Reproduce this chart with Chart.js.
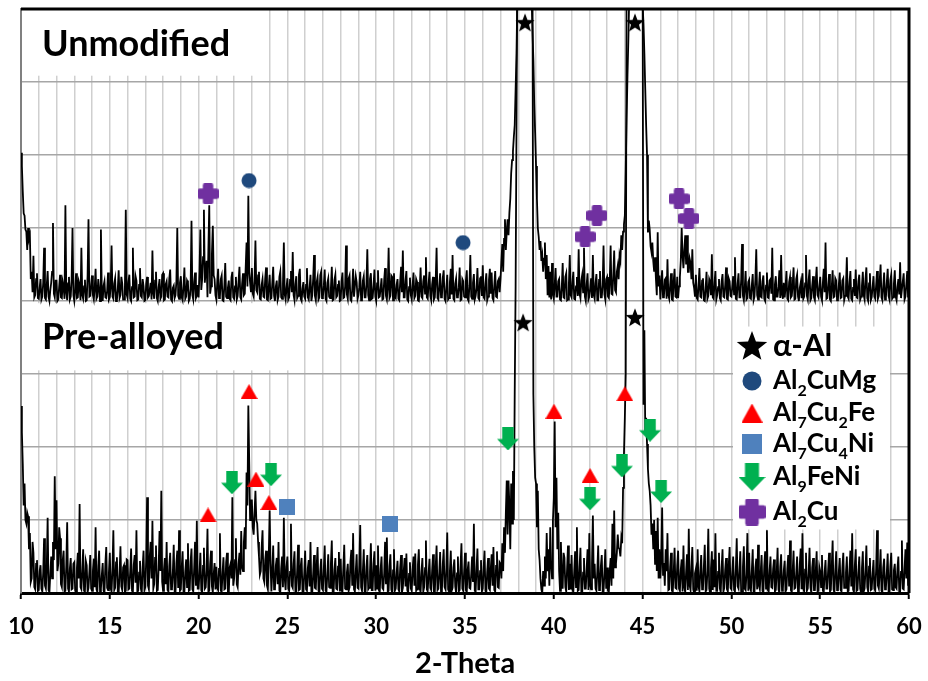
<!DOCTYPE html>
<html>
<head>
<meta charset="utf-8">
<script src="https://cdn.jsdelivr.net/npm/chart.js@4.4.1/dist/chart.umd.min.js"></script>
<style>
  html, body { margin: 0; padding: 0; background: #fff; }
  #wrap { width: 928px; height: 681px; }
</style>
</head>
<body>
<div id="wrap"><canvas id="xrd" width="928" height="681"></canvas></div>
<script>
// scan: 10-60 deg 2-theta, 0.05 deg step; intensity in grid units (100 = one gridline)
const scanStart = 10;
const scanStep = 0.05;
const stackOffset = 400; // the unmodified pattern sits four gridlines up

const unmodified = [
  203,185,150,120,117,98,95,70,100,85,90,30,40,12,62,5,8,30,38,4,
  3,18,30,2,6,25,73,4,2,22,41,6,0,15,25,40,107,10,5,28,
  28,0,2,20,36,5,4,26,19,3,131,12,1,24,33,2,6,30,100,8,
  0,15,38,4,5,27,22,1,73,8,3,20,29,0,1,35,112,6,7,22,
  35,8,2,18,44,3,6,30,18,0,98,10,0,21,27,5,4,14,39,2,
  5,20,76,6,3,24,31,0,1,17,42,4,8,33,24,2,2,16,125,9,
  4,26,36,3,0,19,73,5,6,34,28,1,2,22,45,7,5,30,20,0,
  1,24,33,5,7,16,25,2,69,11,3,28,40,4,0,19,30,3,6,36,
  38,1,2,23,27,6,5,31,43,2,0,18,21,4,8,27,100,7,3,25,
  34,5,1,20,46,3,6,28,25,0,3,17,110,8,2,26,39,4,7,22,
  5,40,98,15,30,60,125,25,40,55,5,70,131,10,20,65,103,35,30,8,
  2,25,44,4,6,30,35,1,0,21,52,6,4,18,28,3,1,32,40,5,
  3,20,33,2,7,27,47,5,2,24,38,8,10,45,80,20,144,40,25,12,
  45,10,6,28,83,15,12,35,40,3,2,22,30,6,5,31,46,2,1,19,
  36,3,4,25,47,7,0,20,28,1,6,33,40,5,3,24,80,9,2,18,
  31,2,5,29,41,12,67,8,1,23,34,4,7,36,44,3,0,17,26,6,
  3,22,45,5,2,19,36,0,8,30,63,7,1,26,33,2,5,35,40,4,
  6,21,43,3,0,25,31,6,4,18,47,1,2,29,36,5,7,22,28,0,
  1,27,39,4,5,20,76,9,3,31,35,2,0,16,44,6,6,34,26,3,
  8,19,40,1,2,28,34,5,5,23,71,8,1,30,38,3,4,21,43,6,
  0,24,42,5,6,18,31,2,3,29,45,7,2,20,73,4,7,35,33,1,
  38,6,4,22,30,3,1,26,47,12,69,5,5,28,41,2,0,19,32,8,
  2,21,39,4,7,30,26,1,0,17,46,6,4,27,35,10,60,5,3,24,
  40,7,1,23,33,2,5,29,73,4,2,20,38,5,6,32,42,3,0,18,
  36,2,4,26,44,9,63,3,1,24,31,5,6,19,46,1,2,30,27,6,
  5,28,42,3,0,21,63,6,3,25,37,2,7,18,45,4,2,31,34,7,
  49,5,3,24,38,1,6,29,44,10,39,4,1,22,41,6,5,27,30,12,
  30,55,78,40,85,112,70,95,112,90,121,140,175,193,205,225,241,290,339,420,
  440,560,720,900,1100,1250,1300,1250,1100,950,820,700,610,540,470,415,370,330,270,230,
  185,140,100,88,70,82,55,63,40,58,80,30,63,8,48,5,40,2,52,9,
  3,22,45,6,6,27,30,2,1,19,52,5,4,33,38,1,2,24,63,8,
  5,26,40,3,2,20,33,7,71,10,4,28,36,12,73,6,0,23,38,2,
  6,18,31,4,63,8,3,25,37,1,1,29,41,5,5,22,76,9,2,30,
  33,6,4,27,76,10,9,35,69,15,12,40,48,30,62,55,90,70,95,105,
  117,180,250,310,360,420,520,700,900,1100,1250,1300,1250,1100,900,750,620,540,470,430,
  405,380,339,290,240,200,94,110,98,75,67,80,55,40,60,30,8,94,20,35,
  2,24,42,5,6,29,31,3,57,8,3,21,38,2,1,27,44,6,5,33,
  4,20,33,55,100,62,45,70,90,50,90,40,40,58,52,30,71,25,18,6,
  36,4,2,21,45,6,5,28,31,1,0,18,40,3,7,30,26,8,64,5,
  3,25,41,2,8,19,30,4,1,27,37,6,5,22,46,3,2,31,27,7,
  6,20,34,9,60,3,2,24,38,5,5,29,78,7,1,18,41,2,4,26,
  29,4,3,22,37,1,6,30,71,8,2,19,40,6,5,27,35,3,0,21,
  39,5,4,28,30,10,73,2,1,23,34,6,6,20,42,4,63,9,3,25,
  5,19,41,3,1,26,33,5,7,22,46,2,3,30,36,6,0,18,25,4,
  38,3,6,24,63,7,2,29,43,1,4,21,34,5,1,27,47,8,5,20,
  33,6,1,25,44,12,80,3,4,22,37,2,0,19,42,5,6,31,28,1,
  2,23,39,4,5,28,31,1,7,20,60,6,3,26,41,3,1,18,30,7,
  43,5,4,27,36,2,6,21,40,8,2,30,46,4,0,24,38,1,5,19,
  34,6,3,22,41,3,7,28,50,5,1,20,39,2,5,26,44,7,2,29,
  36,3,5,24,42,6,1,19,30,9,53,4,4,27,38,2,6,23,41,5,
  24
];

const preAlloyed = [
  256,220,177,120,150,100,95,110,105,60,82,15,20,70,55,8,5,40,45,3,
  4,30,38,6,2,28,75,10,6,35,103,4,1,26,50,20,70,45,160,60,
  127,30,40,90,75,12,8,45,58,2,3,38,97,6,2,33,48,5,6,40,
  42,4,0,35,55,20,122,8,5,30,60,3,2,44,38,1,7,29,52,6,
  3,31,47,8,90,5,1,37,58,2,6,25,41,3,0,40,63,7,4,28,
  55,6,2,33,86,4,7,42,49,1,0,27,64,9,4,35,38,2,3,46,
  45,5,6,30,61,3,1,39,52,14,86,2,3,28,44,6,0,36,58,4,
  8,45,131,10,5,50,70,20,99,6,12,48,65,3,4,35,85,30,140,15,
  3,32,48,12,70,4,2,38,55,5,6,29,66,2,0,41,58,7,86,3,
  5,36,57,2,1,30,46,8,68,3,4,43,61,5,2,34,70,10,99,6,
  6,28,55,4,0,37,62,6,8,31,88,2,3,40,58,9,1,26,41,5,
  36,7,4,33,82,3,2,29,49,5,6,42,55,1,0,35,40,20,131,10,
  20,45,75,12,8,40,55,25,85,35,30,70,90,60,165,120,257,180,100,127,
  127,90,80,110,140,100,95,70,50,25,30,62,86,20,15,45,58,10,5,50,
  113,40,2,30,65,5,6,38,48,12,70,3,1,34,50,8,103,20,4,36,
  50,6,3,29,95,10,7,40,57,2,0,31,66,4,5,37,48,1,2,28,
  58,5,3,34,45,9,70,2,1,26,52,7,6,39,63,3,0,30,47,6,
  4,33,65,3,2,27,53,8,7,41,72,1,0,32,48,6,5,36,56,2,
  47,4,1,35,66,6,5,28,40,3,8,43,59,10,82,5,2,30,53,7,
  6,38,93,8,3,31,60,2,0,36,52,5,7,29,68,4,4,40,57,3,
  38,6,65,4,1,33,50,7,5,27,70,12,76,2,3,37,53,5,0,31,
  60,3,6,28,44,5,2,35,52,1,7,30,48,9,54,4,0,26,42,6,
  3,32,50,10,54,3,5,39,60,6,1,29,48,2,8,34,72,5,2,27,
  47,7,4,31,53,2,0,36,65,4,6,28,56,1,3,40,60,8,5,33,
  83,5,2,30,58,3,7,35,46,9,0,27,50,2,4,38,68,6,3,29,
  55,4,1,32,43,7,6,26,50,15,95,3,2,34,61,5,5,30,45,2,
  6,35,58,3,0,29,48,6,4,33,53,10,63,4,2,37,57,8,7,42,
  40,20,68,30,90,55,110,154,80,154,120,60,150,95,167,100,276,420,640,880,
  1100,1400,1700,1900,2000,2000,1900,1700,1500,1300,1150,1050,980,930,900,880,850,272,200,158,
  150,90,140,60,45,20,5,0,30,10,50,20,82,30,60,10,90,40,20,99,
  130,235,90,158,60,110,30,3,70,20,6,55,48,8,2,35,65,4,40,5,
  52,5,1,30,57,8,90,3,4,36,62,2,0,28,48,6,6,33,60,4,
  82,10,5,40,106,20,40,6,3,30,65,4,7,37,52,2,1,28,60,6,
  35,3,2,30,48,10,95,20,113,35,40,55,80,62,60,50,75,68,144,190,
  240,300,850,1200,1600,1900,2000,2000,1900,1700,1500,1300,1150,1050,980,930,900,880,860,850,
  850,258,360,220,240,204,170,150,140,120,80,95,60,100,40,85,30,103,20,60,
  20,45,117,25,41,10,60,30,82,4,5,36,55,3,2,28,62,7,6,38,
  58,6,3,32,46,2,65,8,1,29,53,4,88,10,4,35,63,5,0,27,
  33,3,60,9,2,31,52,5,6,37,66,2,4,30,88,6,0,34,57,4,
  46,8,82,3,3,29,55,6,1,35,60,2,7,32,48,5,2,38,63,7,
  5,28,50,4,2,33,75,9,6,30,57,1,0,36,64,6,4,27,82,3,
  55,7,3,31,60,2,1,34,47,5,66,10,5,29,52,3,0,37,57,6,
  86,4,2,30,50,8,7,33,46,2,4,28,62,5,0,36,53,3,6,31,
  44,2,5,34,52,9,72,4,1,30,58,6,7,27,50,2,3,39,61,5,
  82,6,2,32,55,3,6,28,62,8,0,35,48,4,4,30,57,2,3,36,
  30,8,52,3,1,29,45,6,6,33,55,2,4,37,72,5,0,31,57,4,
  5,30,48,4,2,35,55,7,7,28,50,2,3,33,58,9,82,5,1,38,
  60,3,4,29,50,6,0,34,57,2,6,31,65,8,2,36,48,4,5,27,
  45,6,3,33,86,10,6,30,60,3,1,35,47,5,7,28,54,2,2,37,
  55,5,4,31,40,8,6,34,50,2,2,29,72,6,5,33,60,20,69,10,
  40
];

// phase markers: [2-theta, height] on the stacked scale
const alphaAl  = [[38.38, 782], [44.57, 782], [38.27, 371], [44.57, 378]];
const al2CuMg  = [[22.84, 565], [34.89, 480]];
const al7Cu2Fe = [[22.84, 276], [20.53, 107], [23.23, 156], [23.96, 124], [40.01, 249], [42.04, 161], [44.0, 273]];
const al7Cu4Ni = [[24.98, 118], [30.78, 95]];
const al9FeNi  = [[21.88, 151], [24.08, 162], [37.42, 211], [42.04, 129], [43.84, 174], [45.42, 223], [46.04, 139]];
const al2Cu    = [[20.53, 547], [41.76, 488], [42.43, 517], [47.05, 540], [47.61, 513]];

const phaseNames = ['α-Al', 'Al2CuMg', 'Al7Cu2Fe', 'Al7Cu4Ni', 'Al9FeNi', 'Al2Cu'];
const panelNames = ['Unmodified', 'Pre-alloyed'];
const axisTitle = '2-Theta';

const FONT = 'Lato';

// --- marker sprites -------------------------------------------------------
function sprite(w, h, draw) {
  const c = document.createElement('canvas');
  c.width = w; c.height = h;
  const g = c.getContext('2d');
  draw(g, w, h);
  return c;
}
function starIcon(size, color) {
  return sprite(size, size, (g, w, h) => {
    const R = size / 2, r = R * 0.42, cx = w / 2, cy = h / 2 + size * 0.06;
    g.beginPath();
    for (let k = 0; k < 10; k++) {
      const rad = k % 2 ? r : R;
      const a = -Math.PI / 2 + k * Math.PI / 5;
      g.lineTo(cx + rad * Math.cos(a), cy + rad * Math.sin(a));
    }
    g.closePath();
    g.fillStyle = color; g.fill();
  });
}
function circleIcon(d, color) {
  return sprite(d, d, (g, w) => {
    g.beginPath(); g.arc(w / 2, w / 2, w / 2 - 0.5, 0, Math.PI * 2);
    g.fillStyle = color; g.fill();
  });
}
function triangleIcon(w, h, color) {
  return sprite(w, h, (g) => {
    g.beginPath(); g.moveTo(w / 2, 0); g.lineTo(w, h); g.lineTo(0, h); g.closePath();
    g.fillStyle = color; g.fill();
  });
}
function squareIcon(s, color) {
  return sprite(s, s, (g) => { g.fillStyle = color; g.fillRect(0, 0, s, s); });
}
function arrowIcon(w, h, color) {
  return sprite(w, h, (g) => {
    const sw = w * 0.52, sh = h * 0.5, l = (w - sw) / 2;
    g.beginPath();
    g.moveTo(l, 0); g.lineTo(l + sw, 0); g.lineTo(l + sw, sh); g.lineTo(w, sh);
    g.lineTo(w / 2, h); g.lineTo(0, sh); g.lineTo(l, sh); g.closePath();
    g.fillStyle = color; g.fill();
  });
}
function plusIcon(s, color) {
  return sprite(s, s, (g) => {
    const a = s * 0.5, o = (s - a) / 2;
    g.fillStyle = color;
    g.beginPath(); g.roundRect(o, 0, a, s, 2); g.fill();
    g.beginPath(); g.roundRect(0, o, s, a, 2); g.fill();
  });
}

const C_STAR = '#000000', C_MG = '#1f497d', C_FE = '#ff0000', C_NI = '#4f81bd', C_FENI = '#00b050', C_CU = '#7030a0';

const marks = [
  starIcon(20, C_STAR), circleIcon(16, C_MG), triangleIcon(17, 15, C_FE),
  squareIcon(16, C_NI), arrowIcon(22, 23, C_FENI), plusIcon(21, C_CU)
];
const keys = [
  starIcon(32, C_STAR), circleIcon(20, C_MG), triangleIcon(21, 19, C_FE),
  squareIcon(20, C_NI), arrowIcon(27, 28, C_FENI), plusIcon(27, C_CU)
];
const phaseData = [alphaAl, al2CuMg, al7Cu2Fe, al7Cu4Ni, al9FeNi, al2Cu];

// --- datasets -------------------------------------------------------------
const trace = (vals, offset) => vals.map((v, i) => ({ x: scanStart + i * scanStep, y: v + offset }));

const datasets = phaseData.map((pts, k) => ({
  type: 'scatter',
  label: phaseNames[k],
  data: pts.map(([x, y]) => ({ x, y })),
  pointStyle: marks[k],
  pointRadius: 8,
  pointHoverRadius: 8
}));
datasets.push(
  { type: 'line', label: panelNames[0], data: trace(unmodified, stackOffset),
    borderColor: '#000', borderWidth: 1.8, pointRadius: 0, tension: 0, fill: false },
  { type: 'line', label: panelNames[1], data: trace(preAlloyed, 0),
    borderColor: '#000', borderWidth: 1.8, pointRadius: 0, tension: 0, fill: false }
);

// text with digit runs set as subscripts (Al2Cu -> Al₂Cu)
function drawFormula(ctx, text, x, y, size) {
  const parts = text.match(/\d+|\D+/g);
  for (const p of parts) {
    const sub = /^\d/.test(p);
    ctx.font = `bold ${sub ? Math.round(size * 0.6) : size}px ${FONT}`;
    ctx.fillText(p, x, sub ? y + size * 0.28 : y);
    x += ctx.measureText(p).width;
  }
}

const decor = {
  id: 'decor',
  beforeDatasetsDraw(chart) {
    const { ctx, chartArea: a, scales: { y } } = chart;
    ctx.save();
    ctx.fillStyle = '#fff';
    // clear grid behind panel captions and the key
    ctx.fillRect(a.left + 1.5, a.top + 1, 243, y.getPixelForValue(710) - a.top);
    ctx.fillRect(a.left + 1.5, y.getPixelForValue(397), 268, y.getPixelForValue(305) - y.getPixelForValue(397));
    ctx.fillRect(733, y.getPixelForValue(365), 157, y.getPixelForValue(87) - y.getPixelForValue(365));

    ctx.fillStyle = '#000';
    ctx.textBaseline = 'alphabetic';
    ctx.font = `bold 36px ${FONT}`;
    ctx.fillText(panelNames[0], 42, 56);
    ctx.fillText(panelNames[1], 42, 349);

    // key
    const rowY = [345, 381, 413, 444, 477, 512];
    phaseNames.forEach((name, k) => {
      const icon = keys[k];
      ctx.drawImage(icon, 752 - icon.width / 2, rowY[k] - icon.height / 2);
      const size = k === 0 ? 31 : 26;
      drawFormula(ctx, name, 773, rowY[k] + (k === 0 ? 11 : 8), size);
    });
    ctx.restore();
  },
  afterDraw(chart) {
    const { ctx, chartArea: a } = chart;
    ctx.save();
    ctx.strokeStyle = '#000';
    ctx.lineWidth = 3;
    ctx.beginPath();
    ctx.moveTo(a.left, a.top);
    ctx.lineTo(a.right, a.top);
    ctx.lineTo(a.right, a.bottom);
    ctx.stroke();
    ctx.restore();
  }
};

new Chart(document.getElementById('xrd'), {
  type: 'line',
  data: { datasets },
  plugins: [decor],
  options: {
    responsive: false,
    animation: false,
    devicePixelRatio: 1,
    layout: { padding: { left: 0, right: 19, top: 5, bottom: 0 } },
    plugins: { legend: { display: false }, tooltip: { enabled: false } },
    scales: {
      x: {
        type: 'linear', min: 10, max: 60,
        afterFit: (s) => { s.height = 88; s.paddingLeft = 0; s.paddingRight = 0; },
        ticks: {
          stepSize: 1, autoSkip: false, maxRotation: 0, padding: 15,
          color: '#000', font: { family: FONT, weight: 'bold', size: 22 },
          callback: (v) => (v % 5 === 0 ? v : '')
        },
        grid: {
          color: '#cfcfcf', lineWidth: 1.5, tickLength: 6,
          tickColor: (c) => (c.tick && c.tick.value % 5 === 0 ? '#000' : 'rgba(0,0,0,0)'),
          tickWidth: 2
        },
        border: { color: '#000', width: 3 },
        title: {
          display: true, text: axisTitle, color: '#000',
          font: { family: FONT, weight: 'bold', size: 29 }, padding: { top: 0, bottom: 0 }
        }
      },
      y: {
        min: 0, max: 800,
        afterFit: (s) => { s.width = 21; },
        ticks: { stepSize: 100, display: false },
        grid: { color: '#a6a6a6', lineWidth: 1.5, drawTicks: false },
        border: { color: '#808080', width: 2 }
      }
    }
  }
});
</script>
</body>
</html>
